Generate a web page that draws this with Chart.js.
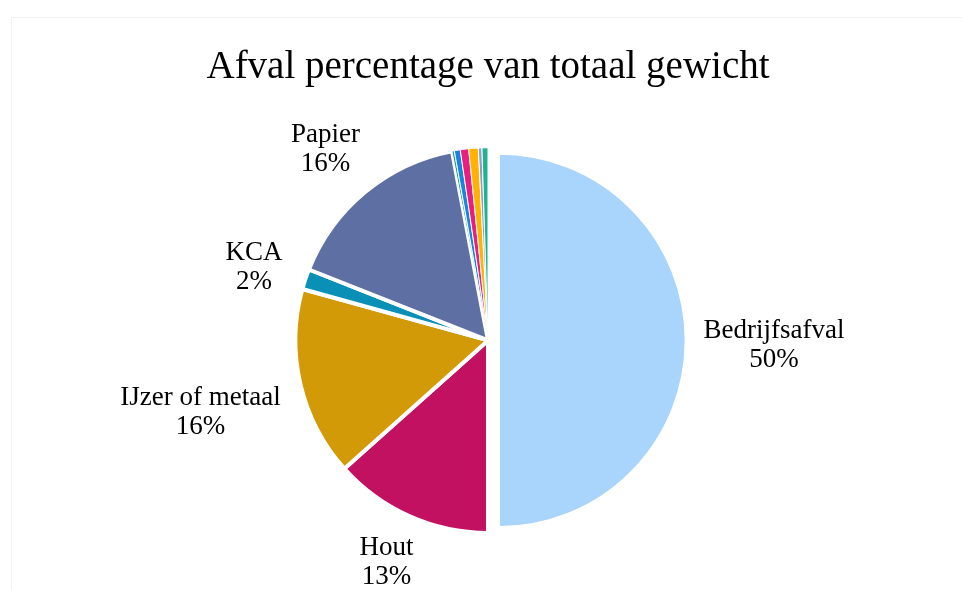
<!DOCTYPE html>
<html>
<head>
<meta charset="utf-8">
<script src="https://cdn.jsdelivr.net/npm/chart.js@4/dist/chart.umd.min.js"></script>
<style>
    html, body { margin: 0; padding: 0; background: #fff; }
    #wrap { position: relative; width: 962px; height: 590px; }
    #frame { position: absolute; left: 11px; top: 17px; right: 0; bottom: 0; border-left: 1px solid #f2f2f2; border-top: 1px solid #f2f2f2; }
    canvas { position: absolute; left: 0; top: 0; }
</style>
</head>
<body>
<div id="wrap">
    <div id="frame"></div>
    <canvas id="afval-chart" width="962" height="590"></canvas>
</div>
<script>
// 数据：afval categorieën en percentages
const categories = ['Bedrijfsafval', 'Hout', 'IJzer of metaal', 'KCA', 'Papier',
    'Overig 1', 'Overig 2', 'Overig 3', 'Overig 4', 'Overig 5', 'Overig 6'];
const percentages = [50.0, 13.4, 15.9, 1.7, 16.0, 0.2, 0.5, 0.7, 0.8, 0.3, 0.5];
const shownLabels = ['50%', '13%', '16%', '2%', '16%', '', '', '', '', '', ''];
const sliceColors = ['#A9D4FB', '#C21160', '#D39A07', '#0A8FB6', '#5E70A3',
    '#2A9D8F', '#1584E4', '#E91E83', '#FFB300', '#8F9CD1', '#22B191'];

const serif = '"Liberation Serif", "DejaVu Serif", serif';

// 第一块扇形（Bedrijfsafval）向外拉出并略微缩小
const explodeFirst = {
    id: 'explodeFirst',
    beforeDatasetsDraw(chart) {
        const meta = chart.getDatasetMeta(0);
        const area = chart.chartArea;
        const arc = meta.data[0];
        const ref = meta.data[1];
        const mid = (arc.startAngle + arc.endAngle) / 2;
        const cx = (area.left + area.right) / 2;
        const cy = (area.top + area.bottom) / 2;
        arc.x = cx + Math.cos(mid) * 11;
        arc.y = cy + Math.sin(mid) * 11;
        arc.outerRadius = ref.outerRadius - 6;
    }
};

// 饼图外侧标签
const outsideLabels = {
    id: 'outsideLabels',
    afterDatasetsDraw(chart) {
        const ctx = chart.ctx;
        const meta = chart.getDatasetMeta(0);
        ctx.save();
        ctx.font = '27px ' + serif;
        ctx.fillStyle = '#000';
        ctx.textAlign = 'center';
        ctx.textBaseline = 'middle';
        const lineH = 29;
        meta.data.forEach((arc, i) => {
            if (!shownLabels[i]) return;
            const mid = (arc.startAngle + arc.endAngle) / 2;
            const dx = Math.cos(mid), dy = Math.sin(mid);
            const w = Math.max(ctx.measureText(categories[i]).width, ctx.measureText(shownLabels[i]).width);
            const h = lineH * 2;
            const support = Math.abs(dx) * w / 2 + Math.abs(dy) * h / 2;
            const dist = arc.outerRadius + 18 + support;
            const cx = arc.x + dx * dist;
            // 标签不能超出画布底部
            const cy = Math.min(arc.y + dy * dist + 5, chart.height - h / 2 + 1);
            ctx.fillText(categories[i], cx, cy - lineH / 2);
            ctx.fillText(shownLabels[i], cx, cy + lineH / 2);
        });
        ctx.restore();
    }
};

const ctx = document.getElementById('afval-chart').getContext('2d');
new Chart(ctx, {
    type: 'pie',
    data: {
        labels: categories,
        datasets: [{
            data: percentages,
            backgroundColor: sliceColors,
            borderColor: '#ffffff',
            borderWidth: [2, 4, 4, 4, 4, 1, 1, 1, 1, 1, 1],
            hoverOffset: 0
        }]
    },
    options: {
        responsive: false,
        animation: false,
        layout: { padding: { left: 14, top: 0, bottom: 55, right: 0 } },
        plugins: {
            legend: { display: false },
            tooltip: { enabled: false },
            title: {
                display: true,
                text: 'Afval percentage van totaal gewicht',
                color: '#000',
                font: { family: serif, size: 39, weight: 'normal' },
                padding: { top: 44, bottom: 55 }
            }
        }
    },
    plugins: [explodeFirst, outsideLabels]
});
</script>
</body>
</html>
